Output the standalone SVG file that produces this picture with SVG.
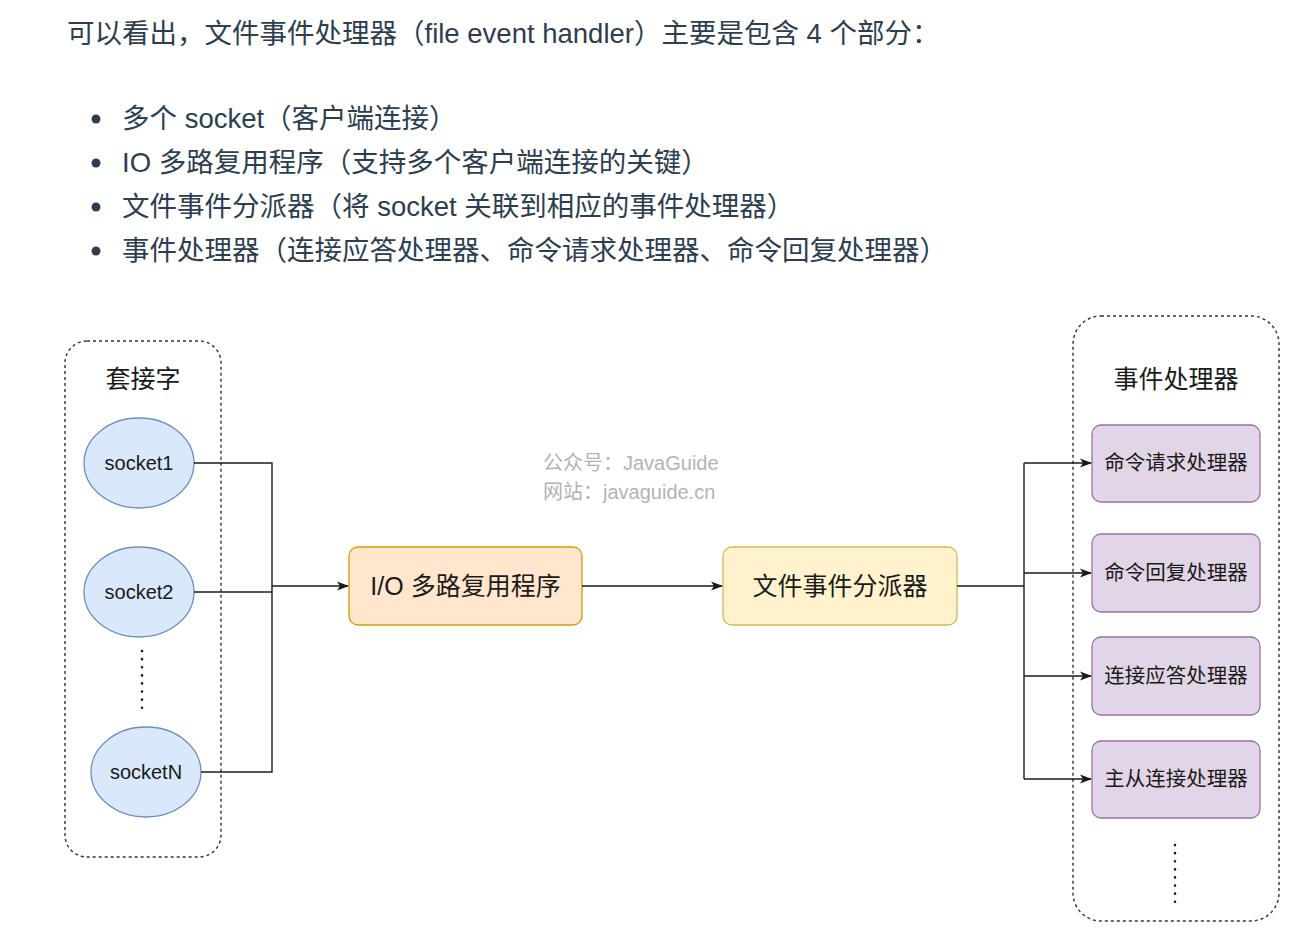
<svg xmlns="http://www.w3.org/2000/svg" width="1305" height="939" viewBox="0 0 1305 939">
<style>
.body{font-family:"Liberation Sans","Noto Sans CJK SC",sans-serif;font-size:27.5px;fill:#2c3e50}
.lbl{font-family:"Liberation Sans","Noto Sans CJK SC",sans-serif;fill:#1a1a1a;text-anchor:middle}
.wm{font-family:"Liberation Sans","Noto Sans CJK SC",sans-serif;font-size:20px;fill:#b3b3b3}
.grp{fill:none;stroke:#333;stroke-width:1.4;stroke-dasharray:3 3}
.sock{fill:#dae8fc;stroke:#6c8ebf;stroke-width:1.3}
.hnd{fill:#e1d5e7;stroke:#9673a6;stroke-width:1.3}
.conn{fill:none;stroke:#1a1a1a;stroke-width:1.4}
.dots{fill:none;stroke:#1a1a1a;stroke-width:2.6;stroke-dasharray:0.1 8;stroke-linecap:round}
</style>
<defs>
<marker id="arr" viewBox="0 0 12 10" refX="11" refY="5" markerWidth="12" markerHeight="10" markerUnits="userSpaceOnUse" orient="auto">
<path d="M0,0.5 L12,5 L0,9.5 L3,5 Z" fill="#1a1a1a"/>
</marker>
</defs>
<rect width="1305" height="939" fill="#fff"/>

<g id="intro">
<text class="body" x="67" y="43">可以看出，文件事件处理器（file event handler）主要是包含 4 个部分：</text>
<circle cx="96" cy="119" r="4.5" fill="#2c3e50"/>
<circle cx="96" cy="163" r="4.5" fill="#2c3e50"/>
<circle cx="96" cy="207" r="4.5" fill="#2c3e50"/>
<circle cx="96" cy="251" r="4.5" fill="#2c3e50"/>
<text class="body" x="122" y="128">多个 socket（客户端连接）</text>
<text class="body" x="122" y="172">IO 多路复用程序（支持多个客户端连接的关键）</text>
<text class="body" x="122" y="216">文件事件分派器（将 socket 关联到相应的事件处理器）</text>
<text class="body" x="122" y="260">事件处理器（连接应答处理器、命令请求处理器、命令回复处理器）</text>
</g>

<g id="watermark">
<text class="wm" x="543" y="470">公众号：JavaGuide</text>
<text class="wm" x="543" y="499">网站：javaguide.cn</text>
</g>

<g id="sockets-group">
<rect class="grp" x="65" y="341" width="156" height="516" rx="22"/>
<text class="lbl" x="143" y="388" font-size="25">套接字</text>
</g>
<g id="socket1"><ellipse class="sock" cx="139" cy="463" rx="55" ry="45"/><text class="lbl" x="139" y="470" font-size="20">socket1</text></g>
<g id="socket2"><ellipse class="sock" cx="139" cy="592" rx="55" ry="45"/><text class="lbl" x="139" y="599" font-size="20">socket2</text></g>
<g id="socket-dots"><line class="dots" x1="142" y1="651" x2="142" y2="715"/></g>
<g id="socketN"><ellipse class="sock" cx="146" cy="772" rx="55" ry="45"/><text class="lbl" x="146" y="779" font-size="20">socketN</text></g>

<g id="io-mux"><rect x="349" y="547" width="233" height="78" rx="9" fill="#ffe6cc" stroke="#d79b00" stroke-width="1.3"/><text class="lbl" x="465.5" y="595" font-size="25">I/O 多路复用程序</text></g>
<g id="dispatcher"><rect x="723" y="547" width="234" height="78" rx="9" fill="#fff2cc" stroke="#d6b656" stroke-width="1.3"/><text class="lbl" x="840" y="595" font-size="25">文件事件分派器</text></g>

<g id="handlers-group">
<rect class="grp" x="1073" y="316" width="206" height="605" rx="28"/>
<text class="lbl" x="1176" y="388" font-size="25">事件处理器</text>
</g>
<g id="h-request"><rect class="hnd" x="1092" y="425" width="168" height="77" rx="9"/><text class="lbl" x="1176" y="470" font-size="20.5">命令请求处理器</text></g>
<g id="h-reply"><rect class="hnd" x="1092" y="534" width="168" height="78" rx="9"/><text class="lbl" x="1176" y="580" font-size="20.5">命令回复处理器</text></g>
<g id="h-accept"><rect class="hnd" x="1092" y="637" width="168" height="78" rx="9"/><text class="lbl" x="1176" y="683" font-size="20.5">连接应答处理器</text></g>
<g id="h-sync"><rect class="hnd" x="1092" y="741" width="168" height="77" rx="9"/><text class="lbl" x="1176" y="786" font-size="20.5">主从连接处理器</text></g>
<g id="handler-dots"><line class="dots" x1="1175" y1="845" x2="1175" y2="908"/></g>

<g id="connectors">
<polyline class="conn" points="194,463 272,463 272,772 201,772"/>
<line class="conn" x1="194" y1="592" x2="272" y2="592"/>
<line class="conn" x1="272" y1="586" x2="348" y2="586" marker-end="url(#arr)"/>
<line class="conn" x1="582" y1="586" x2="722" y2="586" marker-end="url(#arr)"/>
<polyline class="conn" points="957,586 1024,586"/>
<line class="conn" x1="1024" y1="463" x2="1024" y2="779"/>
<line class="conn" x1="1024" y1="463" x2="1091" y2="463" marker-end="url(#arr)"/>
<line class="conn" x1="1024" y1="573" x2="1091" y2="573" marker-end="url(#arr)"/>
<line class="conn" x1="1024" y1="676" x2="1091" y2="676" marker-end="url(#arr)"/>
<line class="conn" x1="1024" y1="779" x2="1091" y2="779" marker-end="url(#arr)"/>
</g>
</svg>
